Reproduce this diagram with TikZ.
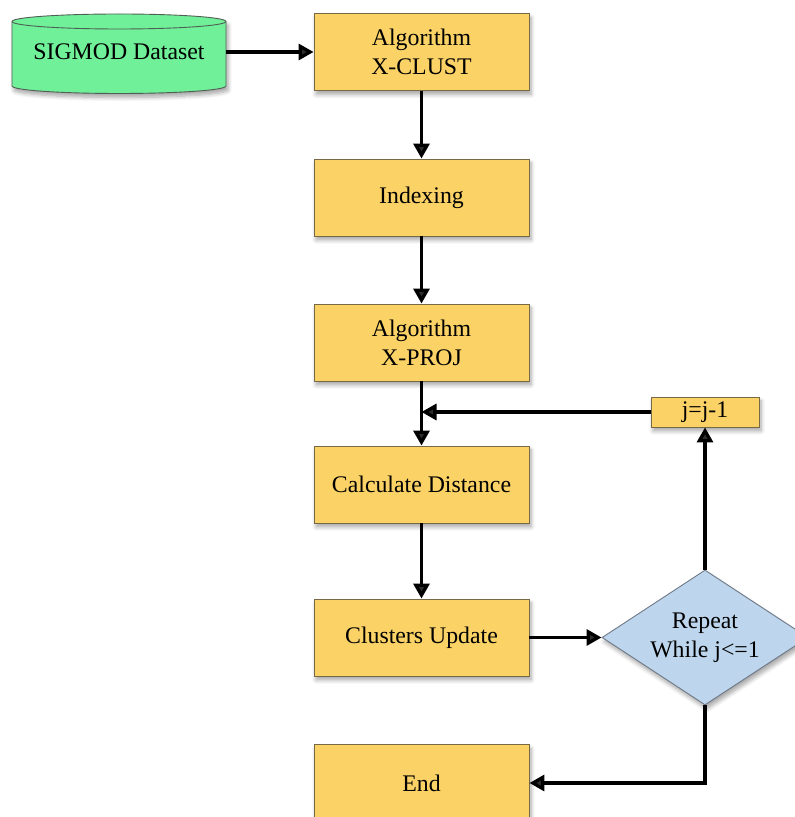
\documentclass[tikz,border=0pt]{standalone}
\usepackage{fontspec}
\setmainfont{Liberation Serif}
\usetikzlibrary{arrows.meta,shapes.geometric,shadows.blur}
\definecolor{boxfill}{RGB}{251,210,102}
\definecolor{boxline}{RGB}{120,105,70}
\definecolor{cylfill}{RGB}{112,240,152}
\definecolor{cylline}{RGB}{80,95,85}
\definecolor{diafill}{RGB}{190,214,237}
\definecolor{dialine}{RGB}{110,120,135}
\tikzset{
  myshadow/.style={blur shadow={shadow blur steps=6, shadow xshift=2pt, shadow yshift=-4pt, shadow opacity=35, shadow blur radius=4pt}},
  procbox/.style={draw=boxline, fill=boxfill, line width=0.9pt, minimum width=215pt, minimum height=77pt, inner sep=0pt, align=center, font=\fontsize{23.8}{29}\selectfont, myshadow},
  smallbox/.style={procbox, minimum width=108pt, minimum height=30pt},
  decision/.style={diamond, draw=dialine, fill=diafill, line width=0.9pt, aspect=1.526, minimum width=206pt, minimum height=135pt, inner sep=0pt, align=center, font=\fontsize{23.8}{29}\selectfont, myshadow},
  flow/.style={line width=3.3pt, -{Triangle[length=15pt,width=16pt]}},
}
\begin{document}
\begin{tikzpicture}[x=1pt,y=1pt]
\useasboundingbox (0,0) rectangle (795,817);
% cylinder
\path[fill=cylfill, draw=cylline, line width=0.9pt, myshadow] (12,795.5) -- (12,731) arc (180:360:107pt and 7.5pt) -- (226,795.5) arc (0:180:107pt and 7.5pt) -- cycle;
\draw[cylline, line width=0.9pt] (12,795.5) arc (180:360:107pt and 7.5pt);
\node (ds) at (119,765) [minimum width=214pt, minimum height=60pt, inner sep=0pt, font=\fontsize{23.8}{29}\selectfont] {SIGMOD Dataset};
% process boxes
\node[procbox] (b1) at (421.5,765) {Algorithm\\X-CLUST};
\node[procbox] (b2) at (421.5,619.5) {Indexing};
\node[procbox] (b3) at (421.5,474.5) {Algorithm\\X-PROJ};
\node[procbox] (b4) at (421.5,332.5) {Calculate Distance};
\node[procbox] (b5) at (421.5,179.5) {Clusters Update};
\node[procbox] (b6) at (421.5,34) {End};
\node[smallbox] (jj) at (705,405) {j=j-1};
\node[decision] (dia) at (705,179.5) {Repeat\\While j<=1};
\coordinate (m) at (421.5,405);
% connectors
\draw[flow] (ds.east) -- (b1.west);
\draw[flow] (b1.south) -- (b2.north);
\draw[flow] (b2.south) -- (b3.north);
\draw[flow] (b3.south) -- (b4.north);
\draw[flow] (jj.west) -- (m);
\draw[flow] (b4.south) -- (b5.north);
\draw[flow] (b5.east) -- (dia.west);
\draw[flow] (dia.north) -- (jj.south);
\draw[flow] (dia.south) |- (b6.east);
\end{tikzpicture}
\end{document}
